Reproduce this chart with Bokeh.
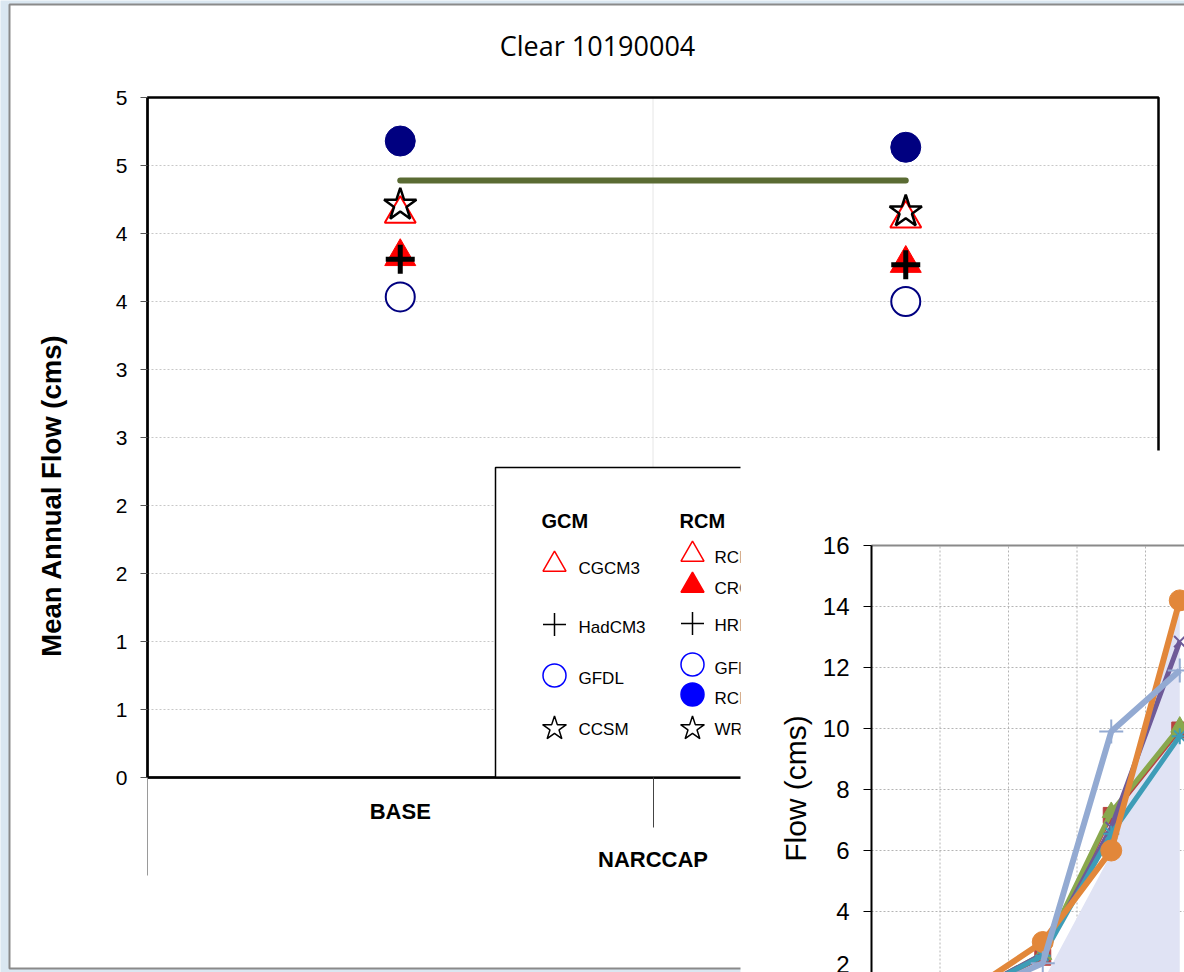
import math
from bokeh.plotting import figure
from bokeh.models import Range1d, LinearAxis, FixedTicker, Label
from bokeh.core.properties import value
from bokeh.embed import file_html
from bokeh.resources import INLINE

# ---------------- data ----------------
title_text = "Clear 10190004"
y_axis_title = "Mean Annual Flow (cms)"
categories = ["BASE", "NARCCAP"]
y_tick_values = [0, 0.5, 1, 1.5, 2, 2.5, 3, 3.5, 4, 4.5, 5]
y_tick_labels = ["0", "1", "1", "2", "2", "3", "3", "4", "4", "5", "5"]

rcm3_cgcm3 = [4.145, 4.11]     # open red triangle
crcm = [3.83, 3.78]            # filled red triangle
hrm3_hadcm3 = [3.81, 3.77]     # plus
gfdl = [3.534, 3.50]           # open circle
rcm3_gfdl = [4.68, 4.634]      # filled circle
wrfg_ccsm = [4.21, 4.16]       # star
observed = [4.39, 4.39]        # green line

legend_gcm_title = "GCM"
legend_rcm_title = "RCM"
gcm_labels = ["CGCM3", "HadCM3", "GFDL", "CCSM"]
rcm_labels = ["RCM3", "CRCM", "HRM3", "GFDL", "RCM3", "WRFG"]

inset_y_title = "Flow (cms)"
months = ["Jan", "Feb", "Mar", "Apr", "May"]
inset_y_ticks = [2, 4, 6, 8, 10, 12, 14, 16]
flow_red = [1.1, 1.4, 2.5, 7.15, 9.95]
flow_green = [1.1, 1.4, 2.6, 7.25, 10.05]
flow_purple = [1.1, 1.4, 2.6, 6.75, 12.85]
flow_teal = [1.1, 1.4, 2.55, 6.55, 9.75]
flow_orange = [1.2, 1.5, 3.0, 6.0, 14.2]
flow_lightblue = [1.0, 1.3, 2.3, 9.9, 11.9]
flow_area = [0.8, 1.0, 1.7, 5.9, 14.0]

# ---------------- geometry (page pixels) ----------------
W, H = 1184, 972
OX, OY = 0, 0
M_L, M_R, M_T, M_B = 147, 1158, 97, 777
m_xs = (M_R - M_L) / len(categories)
m_ys = (M_B - M_T) / (y_tick_values[-1] - y_tick_values[0])
I_L, I_CW, I_Y16, I_PX = 871, 68.5, 545, 30.5

x_main = Range1d((OX - M_L) / m_xs, (OX + W - M_L) / m_xs)
y_main = Range1d((M_B - (OY + H)) / m_ys, (M_B - OY) / m_ys)

p = figure(width=W, height=H, x_range=x_main, y_range=y_main,
           x_axis_type=None, y_axis_type=None, min_border=0,
           toolbar_location=None, output_backend="svg",
           background_fill_color="#dae7f1", border_fill_color="#dae7f1",
           outline_line_color=None)

ix_start = (OX - I_L) / I_CW
ix_end = (OX + W - I_L) / I_CW
iy_start = 16 - (OY + H - I_Y16) / I_PX
iy_end = 16 + (I_Y16 - OY) / I_PX
p.extra_x_ranges = {"px": Range1d(OX, OX + W), "ix": Range1d(ix_start, ix_end)}
p.extra_y_ranges = {"py": Range1d(OY + H, OY), "iy": Range1d(iy_start, iy_end)}

FONT = "Liberation Sans"
n = len(categories)
xs = [i + 0.5 for i in range(n)]

# slide panel
p.quad(left=[9], right=[W + 20], top=[4], bottom=[968], x_range_name="px",
       y_range_name="py", fill_color="white", line_color="#8a8a8a",
       line_width=2, level="image")

# ---------- main chart grid ----------
hy = y_tick_values[1:]
p.segment(x0=[0] * len(hy), x1=[n] * len(hy), y0=hy, y1=hy,
          line_color="#c8c8c8", line_width=1, line_dash="2 2", level="underlay")
p.segment(x0=[1], x1=[1], y0=[0], y1=[y_tick_values[-1]],
          line_color="#e6e6e6", line_width=1, level="underlay")
p.quad(left=[0], right=[n], bottom=[0], top=[y_tick_values[-1]],
       fill_color=None, line_color="black", line_width=2.5, level="underlay")

# ---------- main data ----------
p.line(xs, observed, line_color="#5a6b33", line_width=6, line_cap="round")
p.scatter(xs, rcm3_cgcm3, marker="triangle", size=31, fill_color=None,
          line_color="#ff0000", line_width=2)
p.scatter(xs, crcm, marker="triangle", size=31, fill_color="#ff0000",
          line_color="#ff0000")
p.scatter(xs, hrm3_hadcm3, marker="cross", size=29, line_color="black",
          line_width=5)
p.scatter(xs, wrfg_ccsm, marker="star", size=34, fill_color=None,
          line_color="black", line_width=2.5)
p.scatter(xs, gfdl, marker="circle", size=29, fill_color="white",
          line_color="#000080", line_width=2)
p.scatter(xs, rcm3_gfdl, marker="circle", size=30, fill_color="#000080",
          line_color="#000080")

# ---------- main axes ----------
ya = LinearAxis(fixed_location=0, bounds=(0, y_tick_values[-1]),
                ticker=FixedTicker(ticks=y_tick_values),
                major_label_overrides={v: s for v, s in zip(y_tick_values, y_tick_labels)},
                major_tick_in=0, major_tick_out=7, major_tick_line_color="#555555",
                minor_tick_line_color=None, axis_line_color="black", axis_line_width=2,
                major_label_standoff=13, major_label_text_font=FONT,
                major_label_text_font_size="21px", major_label_text_color="black")
p.add_layout(ya, "left")

xa1 = LinearAxis(fixed_location=0, bounds=(0, n), ticker=FixedTicker(ticks=[0]),
                 major_label_overrides={0: ""}, major_tick_in=0, major_tick_out=98,
                 major_tick_line_color="#9a9a9a", minor_tick_line_color=None,
                 axis_line_color="black", axis_line_width=2, level="glyph")
p.add_layout(xa1, "below")
xa2 = LinearAxis(fixed_location=0, bounds=(0, n), ticker=FixedTicker(ticks=[1]),
                 major_label_overrides={1: ""}, major_tick_in=0, major_tick_out=50,
                 major_tick_line_color="#444444", minor_tick_line_color=None,
                 axis_line_color=None, level="glyph")
p.add_layout(xa2, "below")
xa3 = LinearAxis(fixed_location=0, bounds=(0, n), ticker=FixedTicker(ticks=[xs[0]]),
                 major_label_overrides={xs[0]: categories[0]}, major_tick_line_color=None,
                 minor_tick_line_color=None, axis_line_color=None, major_tick_out=0,
                 major_label_standoff=21, major_label_text_font=FONT,
                 major_label_text_font_style="bold", major_label_text_font_size="22px",
                 major_label_text_color="black", level="glyph")
p.add_layout(xa3, "below")
xa4 = LinearAxis(fixed_location=0, bounds=(0, n), ticker=FixedTicker(ticks=[1]),
                 major_label_overrides={1: categories[1]}, major_tick_line_color=None,
                 minor_tick_line_color=None, axis_line_color=None, major_tick_out=0,
                 major_label_standoff=69, major_label_text_font=FONT,
                 major_label_text_font_style="bold", major_label_text_font_size="22px",
                 major_label_text_color="black", level="glyph")
p.add_layout(xa4, "below")

# ---------- main legend (clipped by the inset) ----------
p.quad(left=[495], right=[950], top=[467], bottom=[777], x_range_name="px",
       y_range_name="py", fill_color="white", line_color="black", line_width=1.5)
p.text(x=[541, 679], y=[520, 520], text=[legend_gcm_title, legend_rcm_title],
       x_range_name="px", y_range_name="py", text_font=value(FONT),
       text_font_style="bold", text_font_size="20px", text_baseline="middle",
       text_color="black")
gcm_style = [("triangle", "#ff0000", None, 564), ("cross", "black", None, 624),
             ("circle", "#0000ff", None, 675), ("star", "black", None, 728)]
gcm_text_y = [568, 627, 678, 729]
for (mk, lc, fc, yy), lab, ty in zip(gcm_style, gcm_labels, gcm_text_y):
    p.scatter(x=[554], y=[yy], marker=mk, size=23 if mk != "star" else 25,
              line_color=lc, fill_color=fc, line_width=1.5,
              x_range_name="px", y_range_name="py")
    p.text(x=[578], y=[ty], text=[lab], x_range_name="px", y_range_name="py",
           text_font=value(FONT), text_font_size="17px", text_baseline="middle",
           text_color="black")
rcm_style = [("triangle", "#ff0000", None, 554), ("triangle", "#ff0000", "#ff0000", 585),
             ("cross", "black", None, 623), ("circle", "#0000ff", None, 664),
             ("circle", "#0000ff", "#0000ff", 694), ("star", "black", None, 728)]
rcm_text_y = [557, 588, 625, 668, 698, 729]
for (mk, lc, fc, yy), lab, ty in zip(rcm_style, rcm_labels, rcm_text_y):
    p.scatter(x=[692], y=[yy], marker=mk, size=23 if mk != "star" else 25,
              line_color=lc, fill_color=fc, line_width=1.5,
              x_range_name="px", y_range_name="py")
    p.text(x=[714], y=[ty], text=[lab], x_range_name="px", y_range_name="py",
           text_font=value(FONT), text_font_size="17px", text_baseline="middle",
           text_color="black")

# ---------- inset chart ----------
p.quad(left=[740], right=[OX + W + 10], top=[450], bottom=[OY + H + 10],
       x_range_name="px", y_range_name="py", fill_color="white", line_color=None,
       level="guide")
m = len(months)
ixs = [i + 0.5 for i in range(m)]
gy = inset_y_ticks[:-1]
p.segment(x0=[0] * len(gy), x1=[ix_end] * len(gy), y0=gy, y1=gy,
          x_range_name="ix", y_range_name="iy", line_color="#b4b4b4",
          line_width=1, line_dash="2 2", level="annotation")
gx = list(range(1, m + 1))
p.segment(x0=gx, x1=gx, y0=[iy_start] * len(gx), y1=[inset_y_ticks[-1]] * len(gx),
          x_range_name="ix", y_range_name="iy", line_color="#b4b4b4",
          line_width=1, line_dash="2 2", level="annotation")
p.varea(x=ixs, y1=[0] * m, y2=flow_area, x_range_name="ix", y_range_name="iy",
        fill_color="#e0e3f4", level="annotation")
p.segment(x0=[0], x1=[ix_end], y0=[inset_y_ticks[-1]], y1=[inset_y_ticks[-1]],
          x_range_name="ix", y_range_name="iy", line_color="#8a8a8a",
          line_width=2, level="annotation")

series = [
    (flow_red, "#b8433f", "square", 16, 4),
    (flow_green, "#89a84d", "triangle", 18, 5),
    (flow_purple, "#6e5a98", "x", 16, 5),
    (flow_teal, "#3e9db7", "asterisk", 16, 5),
    (flow_orange, "#e2873a", "circle", 21, 6),
    (flow_lightblue, "#93aad2", "cross", 24, 6),
]
for vals, col, mk, sz, lw in series:
    p.line(ixs, vals, line_color=col, line_width=lw, x_range_name="ix",
           y_range_name="iy", level="annotation")
    p.scatter(ixs, vals, marker=mk, size=sz, fill_color=col, line_color=col,
              line_width=2 if mk in ("cross", "x", "asterisk") else 1,
              x_range_name="ix", y_range_name="iy", level="annotation")

iya = LinearAxis(x_range_name="ix", y_range_name="iy", fixed_location=0,
                 bounds=(0, inset_y_ticks[-1]), ticker=FixedTicker(ticks=inset_y_ticks),
                 major_tick_in=0, major_tick_out=8, major_tick_line_color="black",
                 minor_tick_line_color=None, axis_line_color="black", axis_line_width=2,
                 major_label_standoff=14, major_label_text_font=FONT,
                 major_label_text_font_size="24px", major_label_text_color="black",
                 level="overlay")
p.add_layout(iya, "left")

# ---------- texts ----------
p.add_layout(Label(x=597, y=45, text=title_text, x_range_name="px", y_range_name="py",
                   text_align="center", text_baseline="middle", text_font="Open Sans",
                   text_font_size="27px", text_color="black"))
p.add_layout(Label(x=51, y=495, text=y_axis_title, angle=math.pi / 2,
                   x_range_name="px", y_range_name="py", text_align="center",
                   text_baseline="middle", text_font=FONT, text_font_style="bold",
                   text_font_size="27.5px", text_color="black"))
p.add_layout(Label(x=795, y=788, text=inset_y_title, angle=math.pi / 2,
                   x_range_name="px", y_range_name="py", text_align="center",
                   text_baseline="middle", text_font=FONT, text_font_size="30px",
                   text_color="black", level="overlay"))

open("out.html", "w").write(file_html(p, INLINE))
